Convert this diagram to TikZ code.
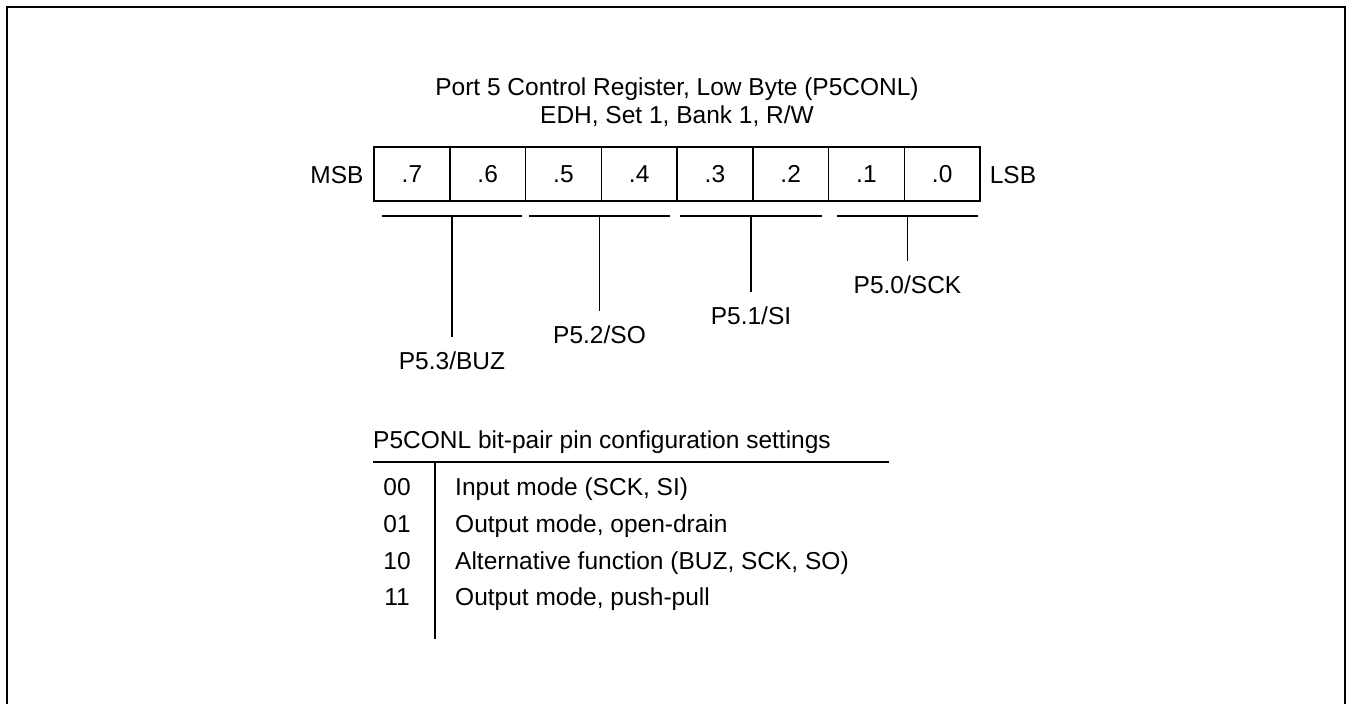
\documentclass[tikz,border=0pt]{standalone}
\usepackage{fontspec}
\setmainfont{Liberation Sans}
\usetikzlibrary{positioning}
\begin{document}
\begin{tikzpicture}[x=1pt,y=-1pt,
  txt/.style={inner sep=0pt,text height=17.5pt,text depth=0pt,font=\fontsize{24.5}{29}\selectfont},
  cell/.style={draw,line width=1.5pt,minimum width=75.75pt,minimum height=54pt,inner sep=0pt,outer sep=0pt,text height=17.5pt,text depth=0pt,font=\fontsize{24.5}{29}\selectfont},
  pinlabel/.style={txt,inner ysep=15pt,anchor=north},
  thin/.style={line width=1.4pt},
  frame/.style={line width=2.2pt}]
\useasboundingbox (0,0) rectangle (1348,704);
% outer frame (open at the bottom)
\coordinate (fbl) at (7,704);
\coordinate (ftl) at (7,7);
\coordinate (ftr) at (1345,7);
\coordinate (fbr) at (1345,704);
\draw[frame] (fbl) -- (ftl) -- (ftr) -- (fbr);
% titles
\node[txt] (t1) at (677,87) {Port 5 Control Register, Low Byte (P5CONL)};
\node[txt] (t2) at (677,115) {EDH, Set 1, Bank 1, R/W};
% register cells
\node[cell] (c7) at (411.9,174) {.7};
\node[cell,right=0pt of c7] (c6) {.6};
\node[cell,right=0pt of c6] (c5) {.5};
\node[cell,right=0pt of c5] (c4) {.4};
\node[cell,right=0pt of c4] (c3) {.3};
\node[cell,right=0pt of c3] (c2) {.2};
\node[cell,right=0pt of c2] (c1) {.1};
\node[cell,right=0pt of c1] (c0) {.0};
\node[txt] (msb) at (337,175) {MSB};
\node[txt] (lsb) at (1013,175) {LSB};
% bracket lines under bit pairs
\coordinate (a1) at (382,216); \coordinate (b1) at (522,216); \coordinate (m1) at (452,216);
\coordinate (a2) at (529,216); \coordinate (b2) at (670,216); \coordinate (m2) at (599.5,216);
\coordinate (a3) at (680,216); \coordinate (b3) at (822,216); \coordinate (m3) at (751,216);
\coordinate (a4) at (837,216); \coordinate (b4) at (978,216); \coordinate (m4) at (907.5,216);
\draw[thin] (a1) -- (b1);
\draw[thin] (a2) -- (b2);
\draw[thin] (a3) -- (b3);
\draw[thin] (a4) -- (b4);
% pin labels
\node[pinlabel] (p53) at (452,337) {P5.3/BUZ};
\node[pinlabel] (p52) at (599.5,311) {P5.2/SO};
\node[pinlabel] (p51) at (751,292) {P5.1/SI};
\node[pinlabel] (p50) at (907.5,261) {P5.0/SCK};
\draw[thin] (m1) -- (p53.north);
\draw[thin] (m2) -- (p52.north);
\draw[thin] (m3) -- (p51.north);
\draw[thin] (m4) -- (p50.north);
% settings table
\node[txt,anchor=west] (th) at (373,440) {P5CONL bit-pair pin configuration settings};
\coordinate (hl) at (373,462); \coordinate (hr) at (889,462);
\draw[line width=1.8pt] (hl) -- (hr);
\coordinate (vt) at (435,462); \coordinate (vb) at (435,639);
\draw[line width=1.6pt] (vt) -- (vb);
\node[txt] (k0) at (397,487) {00};
\node[txt] (k1) at (397,524) {01};
\node[txt] (k2) at (397,561) {10};
\node[txt] (k3) at (397,597) {11};
\node[txt,anchor=west] (d0) at (455,487) {Input mode (SCK, SI)};
\node[txt,anchor=west] (d1) at (455,524) {Output mode, open-drain};
\node[txt,anchor=west] (d2) at (455,561) {Alternative function (BUZ, SCK, SO)};
\node[txt,anchor=west] (d3) at (455,597) {Output mode, push-pull};
\end{tikzpicture}
\end{document}
